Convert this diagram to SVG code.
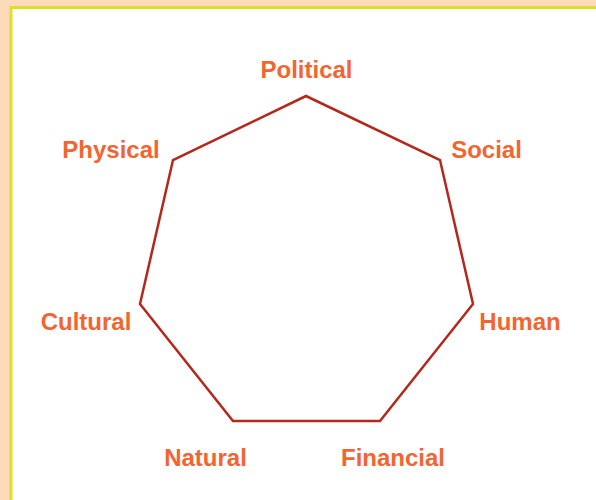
<svg xmlns="http://www.w3.org/2000/svg" width="596" height="500" viewBox="0 0 596 500">
<style>
.lbl{font-family:"Liberation Sans",Arial,sans-serif;font-weight:bold;font-size:24px;fill:#F26531;text-anchor:middle}
.edge{fill:none;stroke:#B5271B;stroke-width:2.5;stroke-linejoin:miter}
</style>
<rect x="0" y="0" width="596" height="500" fill="#FDDBBA"/>
<rect x="11" y="7.5" width="590" height="500" fill="#FFFFFF" stroke="#DCE02A" stroke-width="3"/>
<g id="connectors">
<polygon class="edge" points="306,96 440,160 473,304 380,421 233,421 140,304 173,160"/>
</g>
<g id="political"><text class="lbl" x="306.5" y="78">Political</text></g>
<g id="social"><text class="lbl" x="486.5" y="158">Social</text></g>
<g id="human"><text class="lbl" x="520" y="330">Human</text></g>
<g id="financial"><text class="lbl" x="393" y="466">Financial</text></g>
<g id="natural"><text class="lbl" x="205.5" y="466">Natural</text></g>
<g id="cultural"><text class="lbl" x="86" y="330">Cultural</text></g>
<g id="physical"><text class="lbl" x="111" y="158">Physical</text></g>
</svg>
